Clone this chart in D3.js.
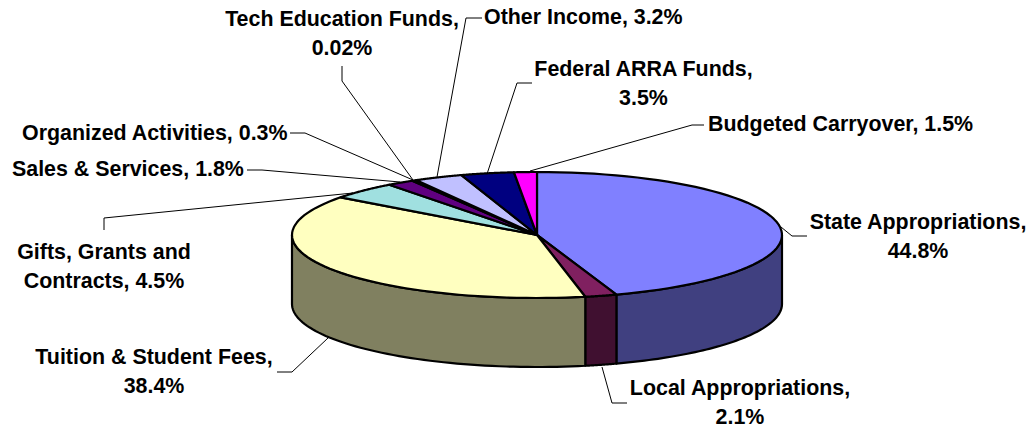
<!DOCTYPE html>
<html>
<head>
<meta charset="utf-8">
<script src="https://cdn.jsdelivr.net/npm/d3@7"></script>
<style>
    html, body { margin: 0; padding: 0; background: #fff; }
    text { font-family: "Liberation Sans", Arial, sans-serif; font-weight: bold; font-size: 21.4px; fill: #000; }
</style>
</head>
<body>
<div id="chart"></div>
<script>
// Chart data, clockwise from 12 o'clock.
const CATEGORIES = ['State Appropriations', 'Local Appropriations', 'Tuition & Student Fees', 'Gifts, Grants and Contracts',
    'Sales & Services', 'Organized Activities', 'Tech Education Funds', 'Other Income', 'Federal ARRA Funds', 'Budgeted Carryover'];
const VALUES = [44.8, 2.1, 38.4, 4.5, 1.8, 0.3, 0.02, 3.2, 3.5, 1.5];
const COLORS = ['#8080ff', '#802060', '#ffffc0', '#a0e0e0', '#600080', '#e08080', '#0080c0', '#c0c0ff', '#000080', '#ff00ff'];

// Label lines and leader polylines, same order as CATEGORIES.
const LABEL_LINES = [
    ['State Appropriations,', '44.8%'],
    ['Local Appropriations,', '2.1%'],
    ['Tuition & Student Fees,', '38.4%'],
    ['Gifts, Grants and', 'Contracts, 4.5%'],
    ['Sales & Services, 1.8%'],
    ['Organized Activities, 0.3%'],
    ['Tech Education Funds,', '0.02%'],
    ['Other Income, 3.2%'],
    ['Federal ARRA Funds,', '3.5%'],
    ['Budgeted Carryover, 1.5%']
];
const LABEL_POS = [
    {x: 918, y: 229, anchor: 'middle'},
    {x: 740, y: 395, anchor: 'middle'},
    {x: 154, y: 364, anchor: 'middle'},
    {x: 104, y: 259, anchor: 'middle'},
    {x: 12, y: 176, anchor: 'start'},
    {x: 22, y: 140, anchor: 'start'},
    {x: 342, y: 26, anchor: 'middle'},
    {x: 484, y: 24, anchor: 'start'},
    {x: 643.5, y: 76, anchor: 'middle'},
    {x: 708, y: 131, anchor: 'start'}
];
const LEADERS = [
    [[781, 227], [792, 236], [807, 236]],
    [[602, 367], [612, 403], [627, 403]],
    [[328, 338], [292, 372], [277, 372]],
    [[353, 193], [104, 218], [104, 230]],
    [[400, 182], [262, 170], [247, 170]],
    [[413, 180], [305, 133], [290, 133]],
    [[413, 180], [342, 81], [342, 66]],
    [[437, 177], [466, 18], [482, 18]],
    [[487, 174], [517, 83], [532, 83]],
    [[530, 171], [692, 125], [704, 125]]
];

const WIDTH = 1032, HEIGHT = 428;
const CENTER = {x: 537, y: 235}, RX = 245, RY = 63, DEPTH = 69;

const svg = d3.select('#chart').append('svg')
    .attr('width', WIDTH)
    .attr('height', HEIGHT);

// Unit circle to page coordinates, flattened for the tilted pie.
const xScale = d3.scaleLinear().domain([-1, 1]).range([CENTER.x - RX, CENTER.x + RX]);
const yScale = d3.scaleLinear().domain([-1, 1]).range([CENTER.y - RY, CENTER.y + RY]);
const rimPoint = (a, drop = 0) => [xScale(Math.sin(a)), yScale(-Math.cos(a)) + drop];
const sampleAngles = (a0, a1) => d3.range(0, 61).map(i => a0 + (a1 - a0) * i / 60);

const arcs = d3.pie().sort(null)(VALUES);

// Darker wall colour is half of the slice colour.
const wallColor = c => {
    const rgb = d3.rgb(c);
    return d3.rgb(rgb.r / 2, rgb.g / 2, rgb.b / 2).formatHex();
};

// Walls, only the part of the rim facing the viewer.
const line = d3.line();
svg.append('g').selectAll('path')
    .data(arcs.filter(d => d.endAngle > Math.PI / 2 && d.startAngle < 1.5 * Math.PI))
    .join('path')
    .attr('d', d => {
        const a0 = Math.max(d.startAngle, Math.PI / 2);
        const a1 = Math.min(d.endAngle, 1.5 * Math.PI);
        const top = sampleAngles(a0, a1).map(a => rimPoint(a));
        const bottom = sampleAngles(a1, a0).map(a => rimPoint(a, DEPTH));
        return line(top.concat(bottom)) + 'Z';
    })
    .attr('fill', d => wallColor(COLORS[d.index]))
    .attr('stroke', '#000')
    .attr('stroke-width', 2.2)
    .attr('stroke-linejoin', 'round');

// Top of the pie.
svg.append('g').selectAll('path')
    .data(arcs)
    .join('path')
    .attr('d', d => {
        const rim = sampleAngles(d.startAngle, d.endAngle).map(a => rimPoint(a));
        return line([[CENTER.x, CENTER.y]].concat(rim)) + 'Z';
    })
    .attr('fill', d => COLORS[d.index])
    .attr('stroke', '#000')
    .attr('stroke-width', 2.2)
    .attr('stroke-linejoin', 'round');

// Leader lines.
svg.append('g').selectAll('path')
    .data(LEADERS)
    .join('path')
    .attr('d', d => line(d))
    .attr('fill', 'none')
    .attr('stroke', '#000')
    .attr('stroke-width', 1);

// Labels.
svg.append('g').selectAll('text')
    .data(CATEGORIES)
    .join('text')
    .attr('text-anchor', (d, i) => LABEL_POS[i].anchor)
    .each(function(d, i) {
        d3.select(this).selectAll('tspan')
            .data(LABEL_LINES[i])
            .join('tspan')
            .attr('x', LABEL_POS[i].x)
            .attr('y', (t, j) => LABEL_POS[i].y + j * 28.5)
            .text(t => t);
    });
</script>
</body>
</html>
